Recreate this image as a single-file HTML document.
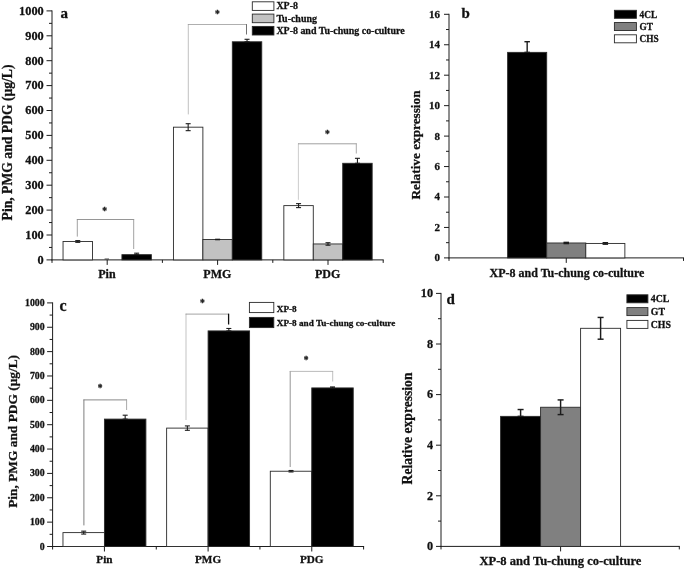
<!DOCTYPE html>
<html><head><meta charset="utf-8"><title>Figure</title>
<style>
html,body{margin:0;padding:0;background:#fff;overflow:hidden;}
svg{display:block;filter:blur(0.45px);}
svg text{font-family:"Liberation Serif","Times New Roman",serif;font-weight:bold;fill:#111;stroke:#111;stroke-width:0.28px;}
</style></head>
<body>
<svg width="685" height="569" viewBox="0 0 685 569">
<rect x="0" y="0" width="685" height="569" fill="#ffffff"/>
<line x1="52.00" y1="10.40" x2="52.00" y2="260.40" stroke="#1c1c1c" stroke-width="1"/>
<line x1="46.50" y1="259.90" x2="52.00" y2="259.90" stroke="#1c1c1c" stroke-width="1"/>
<text x="43.70" y="263.71" font-size="12.3" text-anchor="end" >0</text>
<line x1="46.50" y1="235.00" x2="52.00" y2="235.00" stroke="#1c1c1c" stroke-width="1"/>
<text x="43.70" y="238.81" font-size="12.3" text-anchor="end" >100</text>
<line x1="46.50" y1="210.10" x2="52.00" y2="210.10" stroke="#1c1c1c" stroke-width="1"/>
<text x="43.70" y="213.91" font-size="12.3" text-anchor="end" >200</text>
<line x1="46.50" y1="185.20" x2="52.00" y2="185.20" stroke="#1c1c1c" stroke-width="1"/>
<text x="43.70" y="189.01" font-size="12.3" text-anchor="end" >300</text>
<line x1="46.50" y1="160.30" x2="52.00" y2="160.30" stroke="#1c1c1c" stroke-width="1"/>
<text x="43.70" y="164.11" font-size="12.3" text-anchor="end" >400</text>
<line x1="46.50" y1="135.40" x2="52.00" y2="135.40" stroke="#1c1c1c" stroke-width="1"/>
<text x="43.70" y="139.21" font-size="12.3" text-anchor="end" >500</text>
<line x1="46.50" y1="110.50" x2="52.00" y2="110.50" stroke="#1c1c1c" stroke-width="1"/>
<text x="43.70" y="114.31" font-size="12.3" text-anchor="end" >600</text>
<line x1="46.50" y1="85.60" x2="52.00" y2="85.60" stroke="#1c1c1c" stroke-width="1"/>
<text x="43.70" y="89.41" font-size="12.3" text-anchor="end" >700</text>
<line x1="46.50" y1="60.70" x2="52.00" y2="60.70" stroke="#1c1c1c" stroke-width="1"/>
<text x="43.70" y="64.51" font-size="12.3" text-anchor="end" >800</text>
<line x1="46.50" y1="35.80" x2="52.00" y2="35.80" stroke="#1c1c1c" stroke-width="1"/>
<text x="43.70" y="39.61" font-size="12.3" text-anchor="end" >900</text>
<line x1="46.50" y1="10.90" x2="52.00" y2="10.90" stroke="#1c1c1c" stroke-width="1"/>
<text x="43.70" y="14.71" font-size="12.3" text-anchor="end" >1000</text>
<line x1="49.00" y1="247.45" x2="52.00" y2="247.45" stroke="#1c1c1c" stroke-width="1"/>
<line x1="49.00" y1="222.55" x2="52.00" y2="222.55" stroke="#1c1c1c" stroke-width="1"/>
<line x1="49.00" y1="197.65" x2="52.00" y2="197.65" stroke="#1c1c1c" stroke-width="1"/>
<line x1="49.00" y1="172.75" x2="52.00" y2="172.75" stroke="#1c1c1c" stroke-width="1"/>
<line x1="49.00" y1="147.85" x2="52.00" y2="147.85" stroke="#1c1c1c" stroke-width="1"/>
<line x1="49.00" y1="122.95" x2="52.00" y2="122.95" stroke="#1c1c1c" stroke-width="1"/>
<line x1="49.00" y1="98.05" x2="52.00" y2="98.05" stroke="#1c1c1c" stroke-width="1"/>
<line x1="49.00" y1="73.15" x2="52.00" y2="73.15" stroke="#1c1c1c" stroke-width="1"/>
<line x1="49.00" y1="48.25" x2="52.00" y2="48.25" stroke="#1c1c1c" stroke-width="1"/>
<line x1="49.00" y1="23.35" x2="52.00" y2="23.35" stroke="#1c1c1c" stroke-width="1"/>
<line x1="51.50" y1="259.90" x2="383.70" y2="259.90" stroke="#1c1c1c" stroke-width="1"/>
<line x1="107.20" y1="259.90" x2="107.20" y2="264.90" stroke="#1c1c1c" stroke-width="1"/>
<line x1="217.60" y1="259.90" x2="217.60" y2="264.90" stroke="#1c1c1c" stroke-width="1"/>
<line x1="328.00" y1="259.90" x2="328.00" y2="264.90" stroke="#1c1c1c" stroke-width="1"/>
<line x1="52.00" y1="259.90" x2="52.00" y2="262.90" stroke="#1c1c1c" stroke-width="1"/>
<line x1="162.40" y1="259.90" x2="162.40" y2="262.90" stroke="#1c1c1c" stroke-width="1"/>
<line x1="272.80" y1="259.90" x2="272.80" y2="262.90" stroke="#1c1c1c" stroke-width="1"/>
<line x1="383.20" y1="259.90" x2="383.20" y2="262.90" stroke="#1c1c1c" stroke-width="1"/>
<rect x="63.04" y="241.47" width="29.44" height="18.43" fill="#ffffff" stroke="#2a2a2a" stroke-width="0.9"/>
<line x1="77.76" y1="242.35" x2="77.76" y2="240.60" stroke="#1c1c1c" stroke-width="1.1"/>
<line x1="75.26" y1="242.35" x2="80.26" y2="242.35" stroke="#1c1c1c" stroke-width="1.1"/>
<line x1="75.26" y1="240.60" x2="80.26" y2="240.60" stroke="#1c1c1c" stroke-width="1.1"/>
<rect x="121.92" y="254.67" width="29.44" height="5.23" fill="#000000" stroke="#2a2a2a" stroke-width="0.9"/>
<line x1="136.64" y1="254.67" x2="136.64" y2="253.18" stroke="#1c1c1c" stroke-width="1.1"/>
<line x1="134.14" y1="254.67" x2="139.14" y2="254.67" stroke="#1c1c1c" stroke-width="1.1"/>
<line x1="134.14" y1="253.18" x2="139.14" y2="253.18" stroke="#1c1c1c" stroke-width="1.1"/>
<rect x="173.44" y="127.18" width="29.44" height="132.72" fill="#ffffff" stroke="#2a2a2a" stroke-width="0.9"/>
<line x1="188.16" y1="130.67" x2="188.16" y2="123.70" stroke="#1c1c1c" stroke-width="1.1"/>
<line x1="185.66" y1="130.67" x2="190.66" y2="130.67" stroke="#1c1c1c" stroke-width="1.1"/>
<line x1="185.66" y1="123.70" x2="190.66" y2="123.70" stroke="#1c1c1c" stroke-width="1.1"/>
<rect x="202.88" y="239.48" width="29.44" height="20.42" fill="#c2c2c2" stroke="#2a2a2a" stroke-width="0.9"/>
<line x1="217.60" y1="239.73" x2="217.60" y2="239.23" stroke="#1c1c1c" stroke-width="1.1"/>
<line x1="215.10" y1="239.73" x2="220.10" y2="239.73" stroke="#1c1c1c" stroke-width="1.1"/>
<line x1="215.10" y1="239.23" x2="220.10" y2="239.23" stroke="#1c1c1c" stroke-width="1.1"/>
<rect x="232.32" y="41.78" width="29.44" height="218.12" fill="#000000" stroke="#2a2a2a" stroke-width="0.9"/>
<line x1="247.04" y1="41.78" x2="247.04" y2="39.29" stroke="#1c1c1c" stroke-width="1.1"/>
<line x1="244.54" y1="41.78" x2="249.54" y2="41.78" stroke="#1c1c1c" stroke-width="1.1"/>
<line x1="244.54" y1="39.29" x2="249.54" y2="39.29" stroke="#1c1c1c" stroke-width="1.1"/>
<rect x="283.84" y="205.62" width="29.44" height="54.28" fill="#ffffff" stroke="#2a2a2a" stroke-width="0.9"/>
<line x1="298.56" y1="207.61" x2="298.56" y2="203.63" stroke="#1c1c1c" stroke-width="1.1"/>
<line x1="296.06" y1="207.61" x2="301.06" y2="207.61" stroke="#1c1c1c" stroke-width="1.1"/>
<line x1="296.06" y1="203.63" x2="301.06" y2="203.63" stroke="#1c1c1c" stroke-width="1.1"/>
<rect x="313.28" y="243.96" width="29.44" height="15.94" fill="#c2c2c2" stroke="#2a2a2a" stroke-width="0.9"/>
<line x1="328.00" y1="245.21" x2="328.00" y2="242.72" stroke="#1c1c1c" stroke-width="1.1"/>
<line x1="325.50" y1="245.21" x2="330.50" y2="245.21" stroke="#1c1c1c" stroke-width="1.1"/>
<line x1="325.50" y1="242.72" x2="330.50" y2="242.72" stroke="#1c1c1c" stroke-width="1.1"/>
<rect x="342.72" y="163.29" width="29.44" height="96.61" fill="#000000" stroke="#2a2a2a" stroke-width="0.9"/>
<line x1="357.44" y1="163.29" x2="357.44" y2="158.31" stroke="#1c1c1c" stroke-width="1.1"/>
<line x1="354.94" y1="163.29" x2="359.94" y2="163.29" stroke="#1c1c1c" stroke-width="1.1"/>
<line x1="354.94" y1="158.31" x2="359.94" y2="158.31" stroke="#1c1c1c" stroke-width="1.1"/>
<line x1="104.60" y1="259.00" x2="109.00" y2="259.00" stroke="#333" stroke-width="0.9"/>
<text x="106.90" y="277.60" font-size="12" text-anchor="middle" >Pin</text>
<text x="217.30" y="277.60" font-size="12" text-anchor="middle" >PMG</text>
<text x="327.70" y="277.60" font-size="12" text-anchor="middle" >PDG</text>
<text transform="translate(12.00,142.50) rotate(-90)" font-size="13.65" text-anchor="middle">Pin, PMG and PDG (μg/L)</text>
<text x="60.40" y="18.20" font-size="15" text-anchor="start" >a</text>
<line x1="77.30" y1="236.60" x2="77.30" y2="219.10" stroke="#979797" stroke-width="0.9"/>
<line x1="76.90" y1="219.50" x2="134.10" y2="219.50" stroke="#8a8a8a" stroke-width="0.9"/>
<line x1="133.70" y1="219.10" x2="133.70" y2="249.00" stroke="#979797" stroke-width="0.9"/>
<text x="104.70" y="214.28" font-size="9.5" text-anchor="middle" fill="#666" stroke="#666" stroke-width="0.45">*</text>
<line x1="188.30" y1="114.40" x2="188.30" y2="24.10" stroke="#b0b0b0" stroke-width="0.8"/>
<line x1="187.90" y1="24.50" x2="246.90" y2="24.50" stroke="#9a9a9a" stroke-width="0.8"/>
<line x1="246.50" y1="24.10" x2="246.50" y2="34.50" stroke="#707070" stroke-width="1.0"/>
<text x="217.30" y="17.39" font-size="9.5" text-anchor="middle" fill="#666" stroke="#666" stroke-width="0.45">*</text>
<line x1="298.40" y1="199.80" x2="298.40" y2="143.40" stroke="#c0c0c0" stroke-width="0.8"/>
<line x1="298.00" y1="143.80" x2="356.70" y2="143.80" stroke="#969696" stroke-width="0.9"/>
<line x1="356.30" y1="143.40" x2="356.30" y2="153.50" stroke="#a0a0a0" stroke-width="0.9"/>
<text x="327.40" y="136.69" font-size="9.5" text-anchor="middle" fill="#666" stroke="#666" stroke-width="0.45">*</text>
<rect x="252.30" y="1.80" width="21.60" height="8.60" fill="#ffffff" stroke="#2a2a2a" stroke-width="0.9"/>
<text x="276.40" y="9.40" font-size="9.95" text-anchor="start" >XP-8</text>
<rect x="252.30" y="14.10" width="21.60" height="8.60" fill="#c2c2c2" stroke="#2a2a2a" stroke-width="0.9"/>
<text x="276.40" y="21.70" font-size="9.95" text-anchor="start" >Tu-chung</text>
<rect x="252.30" y="26.40" width="21.60" height="8.60" fill="#000000" stroke="#2a2a2a" stroke-width="0.9"/>
<text x="276.40" y="34.00" font-size="9.95" text-anchor="start" >XP-8 and Tu-chung co-culture</text>
<line x1="449.00" y1="13.80" x2="449.00" y2="258.40" stroke="#1c1c1c" stroke-width="1"/>
<line x1="444.00" y1="257.90" x2="449.00" y2="257.90" stroke="#1c1c1c" stroke-width="1"/>
<text x="440.00" y="261.31" font-size="11" text-anchor="end" >0</text>
<line x1="444.00" y1="227.45" x2="449.00" y2="227.45" stroke="#1c1c1c" stroke-width="1"/>
<text x="440.00" y="230.86" font-size="11" text-anchor="end" >2</text>
<line x1="444.00" y1="197.00" x2="449.00" y2="197.00" stroke="#1c1c1c" stroke-width="1"/>
<text x="440.00" y="200.41" font-size="11" text-anchor="end" >4</text>
<line x1="444.00" y1="166.55" x2="449.00" y2="166.55" stroke="#1c1c1c" stroke-width="1"/>
<text x="440.00" y="169.96" font-size="11" text-anchor="end" >6</text>
<line x1="444.00" y1="136.10" x2="449.00" y2="136.10" stroke="#1c1c1c" stroke-width="1"/>
<text x="440.00" y="139.51" font-size="11" text-anchor="end" >8</text>
<line x1="444.00" y1="105.65" x2="449.00" y2="105.65" stroke="#1c1c1c" stroke-width="1"/>
<text x="440.00" y="109.06" font-size="11" text-anchor="end" >10</text>
<line x1="444.00" y1="75.20" x2="449.00" y2="75.20" stroke="#1c1c1c" stroke-width="1"/>
<text x="440.00" y="78.61" font-size="11" text-anchor="end" >12</text>
<line x1="444.00" y1="44.75" x2="449.00" y2="44.75" stroke="#1c1c1c" stroke-width="1"/>
<text x="440.00" y="48.16" font-size="11" text-anchor="end" >14</text>
<line x1="444.00" y1="14.30" x2="449.00" y2="14.30" stroke="#1c1c1c" stroke-width="1"/>
<text x="440.00" y="17.71" font-size="11" text-anchor="end" >16</text>
<line x1="446.00" y1="242.67" x2="449.00" y2="242.67" stroke="#1c1c1c" stroke-width="1"/>
<line x1="446.00" y1="212.22" x2="449.00" y2="212.22" stroke="#1c1c1c" stroke-width="1"/>
<line x1="446.00" y1="181.77" x2="449.00" y2="181.77" stroke="#1c1c1c" stroke-width="1"/>
<line x1="446.00" y1="151.32" x2="449.00" y2="151.32" stroke="#1c1c1c" stroke-width="1"/>
<line x1="446.00" y1="120.88" x2="449.00" y2="120.88" stroke="#1c1c1c" stroke-width="1"/>
<line x1="446.00" y1="90.43" x2="449.00" y2="90.43" stroke="#1c1c1c" stroke-width="1"/>
<line x1="446.00" y1="59.97" x2="449.00" y2="59.97" stroke="#1c1c1c" stroke-width="1"/>
<line x1="446.00" y1="29.53" x2="449.00" y2="29.53" stroke="#1c1c1c" stroke-width="1"/>
<line x1="448.50" y1="257.90" x2="684.00" y2="257.90" stroke="#1c1c1c" stroke-width="1"/>
<line x1="566.25" y1="257.90" x2="566.25" y2="262.90" stroke="#1c1c1c" stroke-width="1"/>
<line x1="449.00" y1="257.90" x2="449.00" y2="260.90" stroke="#1c1c1c" stroke-width="1"/>
<line x1="683.50" y1="257.90" x2="683.50" y2="260.90" stroke="#1c1c1c" stroke-width="1"/>
<rect x="507.62" y="52.36" width="39.08" height="205.54" fill="#000000" stroke="#2a2a2a" stroke-width="0.9"/>
<line x1="527.17" y1="52.36" x2="527.17" y2="41.71" stroke="#1c1c1c" stroke-width="1.4"/>
<line x1="524.42" y1="52.36" x2="529.92" y2="52.36" stroke="#1c1c1c" stroke-width="1.4"/>
<line x1="524.42" y1="41.71" x2="529.92" y2="41.71" stroke="#1c1c1c" stroke-width="1.4"/>
<rect x="546.71" y="242.98" width="39.08" height="14.92" fill="#808080" stroke="#2a2a2a" stroke-width="0.9"/>
<line x1="566.25" y1="243.59" x2="566.25" y2="242.37" stroke="#1c1c1c" stroke-width="1.4"/>
<line x1="563.50" y1="243.59" x2="569.00" y2="243.59" stroke="#1c1c1c" stroke-width="1.4"/>
<line x1="563.50" y1="242.37" x2="569.00" y2="242.37" stroke="#1c1c1c" stroke-width="1.4"/>
<rect x="585.79" y="243.44" width="39.08" height="14.46" fill="#ffffff" stroke="#2a2a2a" stroke-width="0.9"/>
<line x1="605.33" y1="244.20" x2="605.33" y2="242.67" stroke="#1c1c1c" stroke-width="1.4"/>
<line x1="602.58" y1="244.20" x2="608.08" y2="244.20" stroke="#1c1c1c" stroke-width="1.4"/>
<line x1="602.58" y1="242.67" x2="608.08" y2="242.67" stroke="#1c1c1c" stroke-width="1.4"/>
<text x="567.00" y="277.00" font-size="12" text-anchor="middle" >XP-8 and Tu-chung co-culture</text>
<text transform="translate(420.30,145.00) rotate(-90)" font-size="13.25" text-anchor="middle">Relative expression</text>
<text x="461.50" y="18.20" font-size="15" text-anchor="start" >b</text>
<rect x="614.40" y="10.30" width="22.00" height="8.00" fill="#000000" stroke="#2a2a2a" stroke-width="0.9"/>
<text x="639.60" y="17.70" font-size="9.3" text-anchor="start" >4CL</text>
<rect x="614.40" y="22.55" width="22.00" height="8.00" fill="#808080" stroke="#2a2a2a" stroke-width="0.9"/>
<text x="639.60" y="29.95" font-size="9.3" text-anchor="start" >GT</text>
<rect x="614.40" y="34.80" width="22.00" height="8.00" fill="#ffffff" stroke="#2a2a2a" stroke-width="0.9"/>
<text x="639.60" y="42.20" font-size="9.3" text-anchor="start" >CHS</text>
<line x1="52.60" y1="302.40" x2="52.60" y2="547.00" stroke="#1c1c1c" stroke-width="1"/>
<line x1="47.10" y1="546.50" x2="52.60" y2="546.50" stroke="#1c1c1c" stroke-width="1"/>
<text x="44.60" y="549.54" font-size="9.8" text-anchor="end" >0</text>
<line x1="47.10" y1="522.14" x2="52.60" y2="522.14" stroke="#1c1c1c" stroke-width="1"/>
<text x="44.60" y="525.18" font-size="9.8" text-anchor="end" >100</text>
<line x1="47.10" y1="497.78" x2="52.60" y2="497.78" stroke="#1c1c1c" stroke-width="1"/>
<text x="44.60" y="500.82" font-size="9.8" text-anchor="end" >200</text>
<line x1="47.10" y1="473.42" x2="52.60" y2="473.42" stroke="#1c1c1c" stroke-width="1"/>
<text x="44.60" y="476.46" font-size="9.8" text-anchor="end" >300</text>
<line x1="47.10" y1="449.06" x2="52.60" y2="449.06" stroke="#1c1c1c" stroke-width="1"/>
<text x="44.60" y="452.10" font-size="9.8" text-anchor="end" >400</text>
<line x1="47.10" y1="424.70" x2="52.60" y2="424.70" stroke="#1c1c1c" stroke-width="1"/>
<text x="44.60" y="427.74" font-size="9.8" text-anchor="end" >500</text>
<line x1="47.10" y1="400.34" x2="52.60" y2="400.34" stroke="#1c1c1c" stroke-width="1"/>
<text x="44.60" y="403.38" font-size="9.8" text-anchor="end" >600</text>
<line x1="47.10" y1="375.98" x2="52.60" y2="375.98" stroke="#1c1c1c" stroke-width="1"/>
<text x="44.60" y="379.02" font-size="9.8" text-anchor="end" >700</text>
<line x1="47.10" y1="351.62" x2="52.60" y2="351.62" stroke="#1c1c1c" stroke-width="1"/>
<text x="44.60" y="354.66" font-size="9.8" text-anchor="end" >800</text>
<line x1="47.10" y1="327.26" x2="52.60" y2="327.26" stroke="#1c1c1c" stroke-width="1"/>
<text x="44.60" y="330.30" font-size="9.8" text-anchor="end" >900</text>
<line x1="47.10" y1="302.90" x2="52.60" y2="302.90" stroke="#1c1c1c" stroke-width="1"/>
<text x="44.60" y="305.94" font-size="9.8" text-anchor="end" >1000</text>
<line x1="49.60" y1="534.32" x2="52.60" y2="534.32" stroke="#1c1c1c" stroke-width="1"/>
<line x1="49.60" y1="509.96" x2="52.60" y2="509.96" stroke="#1c1c1c" stroke-width="1"/>
<line x1="49.60" y1="485.60" x2="52.60" y2="485.60" stroke="#1c1c1c" stroke-width="1"/>
<line x1="49.60" y1="461.24" x2="52.60" y2="461.24" stroke="#1c1c1c" stroke-width="1"/>
<line x1="49.60" y1="436.88" x2="52.60" y2="436.88" stroke="#1c1c1c" stroke-width="1"/>
<line x1="49.60" y1="412.52" x2="52.60" y2="412.52" stroke="#1c1c1c" stroke-width="1"/>
<line x1="49.60" y1="388.16" x2="52.60" y2="388.16" stroke="#1c1c1c" stroke-width="1"/>
<line x1="49.60" y1="363.80" x2="52.60" y2="363.80" stroke="#1c1c1c" stroke-width="1"/>
<line x1="49.60" y1="339.44" x2="52.60" y2="339.44" stroke="#1c1c1c" stroke-width="1"/>
<line x1="49.60" y1="315.08" x2="52.60" y2="315.08" stroke="#1c1c1c" stroke-width="1"/>
<line x1="52.10" y1="546.50" x2="364.10" y2="546.50" stroke="#1c1c1c" stroke-width="1"/>
<line x1="104.43" y1="546.50" x2="104.43" y2="551.50" stroke="#1c1c1c" stroke-width="1"/>
<line x1="208.10" y1="546.50" x2="208.10" y2="551.50" stroke="#1c1c1c" stroke-width="1"/>
<line x1="311.77" y1="546.50" x2="311.77" y2="551.50" stroke="#1c1c1c" stroke-width="1"/>
<line x1="52.60" y1="546.50" x2="52.60" y2="549.50" stroke="#1c1c1c" stroke-width="1"/>
<line x1="156.27" y1="546.50" x2="156.27" y2="549.50" stroke="#1c1c1c" stroke-width="1"/>
<line x1="259.93" y1="546.50" x2="259.93" y2="549.50" stroke="#1c1c1c" stroke-width="1"/>
<line x1="363.60" y1="546.50" x2="363.60" y2="549.50" stroke="#1c1c1c" stroke-width="1"/>
<rect x="62.97" y="532.61" width="41.47" height="13.89" fill="#ffffff" stroke="#2a2a2a" stroke-width="0.9"/>
<line x1="83.70" y1="534.08" x2="83.70" y2="531.15" stroke="#1c1c1c" stroke-width="1.1"/>
<line x1="81.20" y1="534.08" x2="86.20" y2="534.08" stroke="#1c1c1c" stroke-width="1.1"/>
<line x1="81.20" y1="531.15" x2="86.20" y2="531.15" stroke="#1c1c1c" stroke-width="1.1"/>
<rect x="104.43" y="419.10" width="41.47" height="127.40" fill="#000000" stroke="#2a2a2a" stroke-width="0.9"/>
<line x1="125.17" y1="419.10" x2="125.17" y2="415.20" stroke="#1c1c1c" stroke-width="1.1"/>
<line x1="122.67" y1="419.10" x2="127.67" y2="419.10" stroke="#1c1c1c" stroke-width="1.1"/>
<line x1="122.67" y1="415.20" x2="127.67" y2="415.20" stroke="#1c1c1c" stroke-width="1.1"/>
<rect x="166.63" y="428.11" width="41.47" height="118.39" fill="#ffffff" stroke="#2a2a2a" stroke-width="0.9"/>
<line x1="187.37" y1="430.30" x2="187.37" y2="425.92" stroke="#1c1c1c" stroke-width="1.1"/>
<line x1="184.87" y1="430.30" x2="189.87" y2="430.30" stroke="#1c1c1c" stroke-width="1.1"/>
<line x1="184.87" y1="425.92" x2="189.87" y2="425.92" stroke="#1c1c1c" stroke-width="1.1"/>
<rect x="208.10" y="330.91" width="41.47" height="215.59" fill="#000000" stroke="#2a2a2a" stroke-width="0.9"/>
<line x1="228.83" y1="330.91" x2="228.83" y2="328.48" stroke="#1c1c1c" stroke-width="1.1"/>
<line x1="226.33" y1="330.91" x2="231.33" y2="330.91" stroke="#1c1c1c" stroke-width="1.1"/>
<line x1="226.33" y1="328.48" x2="231.33" y2="328.48" stroke="#1c1c1c" stroke-width="1.1"/>
<rect x="270.30" y="471.23" width="41.47" height="75.27" fill="#ffffff" stroke="#2a2a2a" stroke-width="0.9"/>
<line x1="291.03" y1="471.96" x2="291.03" y2="470.50" stroke="#1c1c1c" stroke-width="1.1"/>
<line x1="288.53" y1="471.96" x2="293.53" y2="471.96" stroke="#1c1c1c" stroke-width="1.1"/>
<line x1="288.53" y1="470.50" x2="293.53" y2="470.50" stroke="#1c1c1c" stroke-width="1.1"/>
<rect x="311.77" y="387.92" width="41.47" height="158.58" fill="#000000" stroke="#2a2a2a" stroke-width="0.9"/>
<line x1="332.50" y1="387.92" x2="332.50" y2="386.94" stroke="#1c1c1c" stroke-width="1.1"/>
<line x1="330.00" y1="387.92" x2="335.00" y2="387.92" stroke="#1c1c1c" stroke-width="1.1"/>
<line x1="330.00" y1="386.94" x2="335.00" y2="386.94" stroke="#1c1c1c" stroke-width="1.1"/>
<text x="104.43" y="563.30" font-size="11.2" text-anchor="middle" >Pin</text>
<text x="208.10" y="563.30" font-size="11.2" text-anchor="middle" >PMG</text>
<text x="311.77" y="563.30" font-size="11.2" text-anchor="middle" >PDG</text>
<text transform="translate(16.80,431.40) rotate(-90)" font-size="13.38" text-anchor="middle">Pin, PMG and PDG (μg/L)</text>
<text x="59.60" y="311.20" font-size="16" text-anchor="start" >c</text>
<line x1="83.90" y1="525.40" x2="83.90" y2="399.50" stroke="#707070" stroke-width="0.9"/>
<line x1="83.50" y1="399.90" x2="127.00" y2="399.90" stroke="#7a7a7a" stroke-width="0.9"/>
<line x1="126.60" y1="399.50" x2="126.60" y2="410.00" stroke="#a0a0a0" stroke-width="0.9"/>
<text x="100.20" y="390.88" font-size="9.5" text-anchor="middle" fill="#666" stroke="#666" stroke-width="0.45">*</text>
<line x1="186.00" y1="420.00" x2="186.00" y2="313.70" stroke="#b4b4b4" stroke-width="0.8"/>
<line x1="185.60" y1="314.10" x2="229.00" y2="314.10" stroke="#8c8c8c" stroke-width="0.8"/>
<line x1="228.60" y1="313.70" x2="228.60" y2="324.50" stroke="#111111" stroke-width="1.3"/>
<text x="202.40" y="306.48" font-size="9.5" text-anchor="middle" fill="#666" stroke="#666" stroke-width="0.45">*</text>
<line x1="290.20" y1="467.00" x2="290.20" y2="371.00" stroke="#8a8a8a" stroke-width="0.9"/>
<line x1="289.80" y1="371.40" x2="333.10" y2="371.40" stroke="#aaaaaa" stroke-width="0.8"/>
<line x1="332.70" y1="371.00" x2="332.70" y2="381.50" stroke="#b0b0b0" stroke-width="0.8"/>
<text x="306.00" y="363.19" font-size="9.5" text-anchor="middle" fill="#666" stroke="#666" stroke-width="0.45">*</text>
<rect x="249.40" y="302.40" width="24.40" height="10.20" fill="#ffffff" stroke="#2a2a2a" stroke-width="0.9"/>
<text x="276.80" y="311.50" font-size="9.2" text-anchor="start" >XP-8</text>
<rect x="249.40" y="317.40" width="24.40" height="10.20" fill="#000000" stroke="#2a2a2a" stroke-width="0.9"/>
<text x="276.80" y="326.20" font-size="9.2" text-anchor="start" >XP-8 and Tu-chung co-culture</text>
<line x1="441.00" y1="292.90" x2="441.00" y2="546.90" stroke="#1c1c1c" stroke-width="1"/>
<line x1="436.00" y1="546.40" x2="441.00" y2="546.40" stroke="#1c1c1c" stroke-width="1"/>
<text x="433.00" y="550.18" font-size="12.2" text-anchor="end" >0</text>
<line x1="436.00" y1="495.80" x2="441.00" y2="495.80" stroke="#1c1c1c" stroke-width="1"/>
<text x="433.00" y="499.58" font-size="12.2" text-anchor="end" >2</text>
<line x1="436.00" y1="445.20" x2="441.00" y2="445.20" stroke="#1c1c1c" stroke-width="1"/>
<text x="433.00" y="448.98" font-size="12.2" text-anchor="end" >4</text>
<line x1="436.00" y1="394.60" x2="441.00" y2="394.60" stroke="#1c1c1c" stroke-width="1"/>
<text x="433.00" y="398.38" font-size="12.2" text-anchor="end" >6</text>
<line x1="436.00" y1="344.00" x2="441.00" y2="344.00" stroke="#1c1c1c" stroke-width="1"/>
<text x="433.00" y="347.78" font-size="12.2" text-anchor="end" >8</text>
<line x1="436.00" y1="293.40" x2="441.00" y2="293.40" stroke="#1c1c1c" stroke-width="1"/>
<text x="433.00" y="297.18" font-size="12.2" text-anchor="end" >10</text>
<line x1="438.00" y1="521.10" x2="441.00" y2="521.10" stroke="#1c1c1c" stroke-width="1"/>
<line x1="438.00" y1="470.50" x2="441.00" y2="470.50" stroke="#1c1c1c" stroke-width="1"/>
<line x1="438.00" y1="419.90" x2="441.00" y2="419.90" stroke="#1c1c1c" stroke-width="1"/>
<line x1="438.00" y1="369.30" x2="441.00" y2="369.30" stroke="#1c1c1c" stroke-width="1"/>
<line x1="438.00" y1="318.70" x2="441.00" y2="318.70" stroke="#1c1c1c" stroke-width="1"/>
<line x1="440.50" y1="546.40" x2="679.80" y2="546.40" stroke="#1c1c1c" stroke-width="1"/>
<line x1="560.60" y1="546.40" x2="560.60" y2="551.40" stroke="#1c1c1c" stroke-width="1"/>
<line x1="441.00" y1="546.40" x2="441.00" y2="549.40" stroke="#1c1c1c" stroke-width="1"/>
<line x1="679.30" y1="546.40" x2="679.30" y2="549.40" stroke="#1c1c1c" stroke-width="1"/>
<rect x="500.60" y="416.36" width="40.00" height="130.04" fill="#000000" stroke="#2a2a2a" stroke-width="0.9"/>
<line x1="520.60" y1="416.36" x2="520.60" y2="409.53" stroke="#1c1c1c" stroke-width="1.45"/>
<line x1="517.60" y1="416.36" x2="523.60" y2="416.36" stroke="#1c1c1c" stroke-width="1.45"/>
<line x1="517.60" y1="409.53" x2="523.60" y2="409.53" stroke="#1c1c1c" stroke-width="1.45"/>
<rect x="540.60" y="407.25" width="40.00" height="139.15" fill="#808080" stroke="#2a2a2a" stroke-width="0.9"/>
<line x1="560.60" y1="414.59" x2="560.60" y2="399.91" stroke="#1c1c1c" stroke-width="1.45"/>
<line x1="557.60" y1="414.59" x2="563.60" y2="414.59" stroke="#1c1c1c" stroke-width="1.45"/>
<line x1="557.60" y1="399.91" x2="563.60" y2="399.91" stroke="#1c1c1c" stroke-width="1.45"/>
<rect x="580.60" y="328.31" width="40.00" height="218.09" fill="#ffffff" stroke="#2a2a2a" stroke-width="0.9"/>
<line x1="600.60" y1="339.19" x2="600.60" y2="317.44" stroke="#1c1c1c" stroke-width="1.45"/>
<line x1="597.60" y1="339.19" x2="603.60" y2="339.19" stroke="#1c1c1c" stroke-width="1.45"/>
<line x1="597.60" y1="317.44" x2="603.60" y2="317.44" stroke="#1c1c1c" stroke-width="1.45"/>
<text x="560.40" y="565.00" font-size="12.55" text-anchor="middle" >XP-8 and Tu-chung co-culture</text>
<text transform="translate(412.20,428.50) rotate(-90)" font-size="13.6" text-anchor="middle">Relative expression</text>
<text x="446.40" y="303.90" font-size="15" text-anchor="start" >d</text>
<rect x="626.90" y="294.80" width="21.00" height="8.00" fill="#000000" stroke="#2a2a2a" stroke-width="0.9"/>
<text x="650.80" y="302.20" font-size="9.8" text-anchor="start" >4CL</text>
<rect x="626.90" y="307.60" width="21.00" height="8.00" fill="#808080" stroke="#2a2a2a" stroke-width="0.9"/>
<text x="650.80" y="315.00" font-size="9.8" text-anchor="start" >GT</text>
<rect x="626.90" y="320.40" width="21.00" height="8.00" fill="#ffffff" stroke="#2a2a2a" stroke-width="0.9"/>
<text x="650.80" y="327.80" font-size="9.8" text-anchor="start" >CHS</text>
</svg>
</body></html>
